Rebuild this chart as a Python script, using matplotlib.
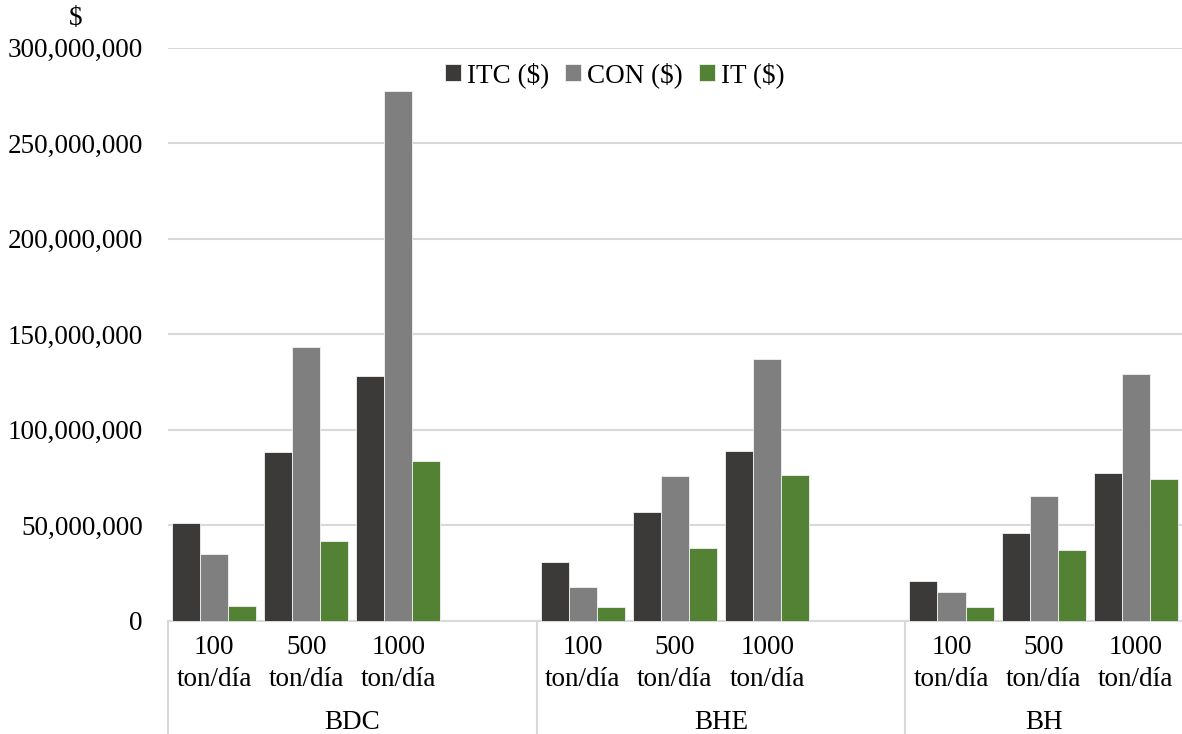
import numpy as np
import matplotlib.pyplot as plt
from matplotlib.ticker import FuncFormatter
import matplotlib.transforms as mtransforms

plt.rcParams['font.family'] = ['Liberation Serif', 'DejaVu Serif']

# grupos y capacidades
groups = ['BDC', 'BHE', 'BH']
sizes = ['100\nton/día', '500\nton/día', '1000\nton/día']

# valores en millones de $ (por grupo: 100, 500, 1000 ton/día)
itc = [51.2, 88.3, 128.1, 30.8, 57.0, 88.9, 20.7, 45.8, 77.2]
con = [34.9, 143.6, 277.6, 17.9, 76.0, 137.0, 15.3, 65.5, 129.0]
it_ = [8.0, 41.7, 83.8, 7.3, 38.0, 76.2, 7.1, 36.9, 74.1]

series = [('ITC ($)', itc, '#3b3a38'),
          ('CON ($)', con, '#7f7f7f'),
          ('IT ($)', it_, '#548235')]

# posiciones: 4 huecos por grupo (el ultimo vacio), el ultimo grupo sin hueco
xpos = np.array([0, 1, 2, 4, 5, 6, 8, 9, 10])
w = 0.304

fig = plt.figure(figsize=(11.82, 7.34), dpi=100)
ax = fig.add_axes([0.142, 0.154, 0.858, 0.781])

for i, (name, vals, col) in enumerate(series):
    ax.bar(xpos + (i - 1) * w, np.array(vals) * 1e6, width=w, color=col,
           edgecolor='#f2f2f2', linewidth=0.6, label=name, zorder=3)

ax.set_ylim(0, 300e6)
ax.set_xlim(-0.5, 10.5)
ax.set_yticks(np.arange(0, 300e6 + 1, 50e6))
ax.yaxis.set_major_formatter(FuncFormatter(lambda v, p: f'{int(v):,}'))
ax.grid(axis='y', color='#d9d9d9', linewidth=1.5, zorder=0)
ax.tick_params(axis='y', length=0, labelsize=19.5, pad=18)
ax.tick_params(axis='x', length=0, labelsize=19.5, pad=10)

ax.set_xticks(xpos)
ax.set_xticklabels(sizes * 3, linespacing=1.4)

for s in ['left', 'right', 'top']:
    ax.spines[s].set_visible(False)
ax.spines['bottom'].set_color('#d9d9d9')
ax.spines['bottom'].set_linewidth(1.5)

# separadores de grupo y nombres de grupo
trans = mtransforms.blended_transform_factory(ax.transData, ax.transAxes)
for xb in [-0.5, 3.5, 7.5]:
    ax.plot([xb, xb], [0, -0.2], transform=trans, color='#d9d9d9',
            linewidth=1.5, clip_on=False)
for name, xc in zip(groups, [1.5, 5.5, 9.0]):
    ax.text(xc, -0.177, name, transform=trans, ha='center', va='center',
            fontsize=19.5)

fig.text(0.064, 0.975, '$', ha='center', va='center', fontsize=19.5)

fig.legend(loc='center', bbox_to_anchor=(0.52, 0.898), ncol=3, frameon=False,
           fontsize=19.5, handlelength=0.6, handleheight=0.6,
           handletextpad=0.2, columnspacing=0.6)

fig.savefig('out.png', dpi=100)
